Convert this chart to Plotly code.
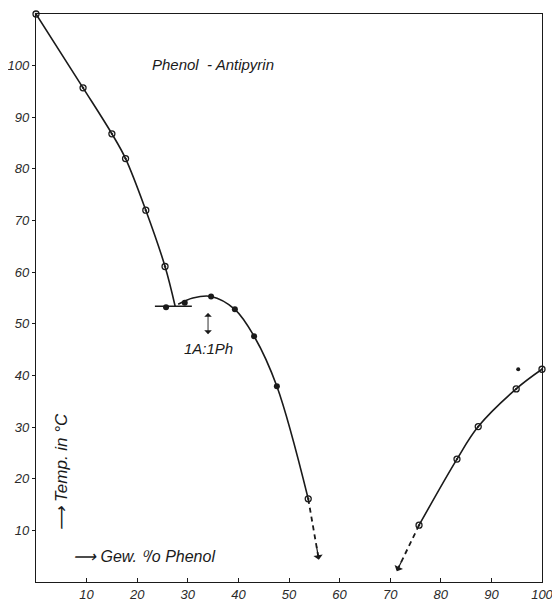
import plotly.graph_objects as go

# Left branch (antipyrin liquidus)
left_x = [0, 9.3, 15.0, 17.7, 21.7, 25.5, 27.5]
left_y = [110, 95.7, 86.8, 82.0, 72.0, 61.1, 53.4]
left_mx = [0, 9.3, 15.0, 17.7, 21.7, 25.5]
left_my = [110, 95.7, 86.8, 82.0, 72.0, 61.1]

# Eutectic line
eut_x = [23.5, 30.8]
eut_y = [53.4, 53.4]
eut_mx = [25.7, 29.4]
eut_my = [53.2, 54.1]

# Compound branch (1A:1Ph)
mid_x = [28.1, 31.0, 34.6, 39.3, 43.1, 47.6, 53.8]
mid_y = [53.8, 55.0, 55.3, 52.8, 47.6, 37.9, 16.1]
mid_mx = [34.6, 39.3, 43.1, 47.6]
mid_my = [55.3, 52.8, 47.6, 37.9]
mid_open_x = [53.8]
mid_open_y = [16.1]
ext_mid_x = [53.8, 55.9]
ext_mid_y = [16.1, 4.3]

# Phenol branch
right_x = [75.7, 83.2, 87.4, 94.9, 100]
right_y = [11.0, 23.8, 30.1, 37.4, 41.2]
ext_right_x = [75.7, 71.3]
ext_right_y = [11.0, 2.1]
stray_x = [95.3]
stray_y = [41.2]

# Compound arrow
comp_x = 34.0
comp_y = [52.4, 48.0]

x_ticks = [10, 20, 30, 40, 50, 60, 70, 80, 90, 100]
y_ticks = [10, 20, 30, 40, 50, 60, 70, 80, 90, 100]

ink = "#1a1a1a"
fnt = dict(family="Liberation Sans", size=13, color="#2a2a2a", style="italic")
lab = dict(family="Liberation Sans", size=15, color=ink, style="italic")

fig = go.Figure()
line = dict(color=ink, width=1.6, shape="spline", smoothing=1.0)
fig.add_trace(go.Scatter(x=left_x, y=left_y, mode="lines", line=line, cliponaxis=False))
fig.add_trace(go.Scatter(x=mid_x, y=mid_y, mode="lines", line=line, cliponaxis=False))
fig.add_trace(go.Scatter(x=right_x, y=right_y, mode="lines", line=line, cliponaxis=False))
fig.add_trace(go.Scatter(x=eut_x, y=eut_y, mode="lines", line=dict(color=ink, width=1.4)))
fig.add_trace(go.Scatter(x=ext_mid_x, y=ext_mid_y, mode="lines",
                         line=dict(color=ink, width=1.8, dash="5px,4px")))
fig.add_trace(go.Scatter(x=ext_right_x, y=ext_right_y, mode="lines",
                         line=dict(color=ink, width=1.8, dash="5px,4px")))

open_m = dict(symbol="circle-open-dot", size=6, color=ink, line=dict(width=1.3, color=ink))
fill_m = dict(symbol="circle", size=6, color=ink)
fig.add_trace(go.Scatter(x=left_mx, y=left_my, mode="markers", marker=open_m, cliponaxis=False))
fig.add_trace(go.Scatter(x=right_x, y=right_y, mode="markers", marker=open_m, cliponaxis=False))
fig.add_trace(go.Scatter(x=mid_open_x, y=mid_open_y, mode="markers", marker=open_m))
fig.add_trace(go.Scatter(x=mid_mx, y=mid_my, mode="markers", marker=fill_m))
fig.add_trace(go.Scatter(x=eut_mx, y=eut_my, mode="markers", marker=fill_m))
fig.add_trace(go.Scatter(x=stray_x, y=stray_y, mode="markers",
                         marker=dict(symbol="circle", size=4, color=ink)))

anns = []
# arrowheads at end of dashed extrapolations
for xs, ys in [(ext_mid_x, ext_mid_y), (ext_right_x, ext_right_y)]:
    fx = xs[1] - (xs[1] - xs[0]) * 0.25
    fy = ys[1] - (ys[1] - ys[0]) * 0.25
    anns.append(dict(x=xs[1], y=ys[1], ax=fx, ay=fy, axref="x", ayref="y",
                     xref="x", yref="y", text="", showarrow=True,
                     arrowhead=1, arrowsize=1.3, arrowwidth=1.2, arrowcolor=ink))
# compound double arrow
anns.append(dict(x=comp_x, y=comp_y[1], ax=comp_x, ay=comp_y[0], axref="x", ayref="y",
                 xref="x", yref="y", text="", showarrow=True, arrowside="end+start",
                 arrowhead=1, arrowsize=1.4, arrowwidth=0.9, arrowcolor=ink))
anns.append(dict(x=comp_x, y=45.2, xref="x", yref="y", text="1A:1Ph", showarrow=False,
                 font=lab))
anns.append(dict(x=22.6, y=100.2, xref="x", yref="y", xanchor="left",
                 text="Phenol  - Antipyrin", showarrow=False, font=lab))
anns.append(dict(x=7.0, y=5.0, xref="x", yref="y", xanchor="left",
                 text="⟶ Gew. ⁰/o Phenol", showarrow=False,
                 font=dict(family="Liberation Sans", size=16, color=ink, style="italic")))
anns.append(dict(x=5.0, y=9.6, xref="x", yref="y", textangle=-90, yanchor="bottom",
                 text="⟶ Temp. in °C", showarrow=False,
                 font=dict(family="Liberation Sans", size=17, color=ink, style="italic")))

# the page body has an 8px margin, so the figure is sized to fit the 560x602 window
fig.update_layout(
    width=552, height=594,
    margin=dict(l=28, r=18, t=6, b=20),
    paper_bgcolor="white", plot_bgcolor="white",
    showlegend=False,
    annotations=anns,
    font=fnt,
)
fig.update_xaxes(range=[0, 100], tickvals=x_ticks, ticktext=[str(v) for v in x_ticks],
                 showgrid=False, zeroline=False, showline=True, linecolor=ink,
                 linewidth=1.3, mirror=True, ticks="inside", ticklen=4, tickcolor=ink,
                 tickfont=fnt, automargin=False, ticklabelstandoff=0)
fig.update_yaxes(range=[0, 110], tickvals=y_ticks, ticktext=[str(v) for v in y_ticks],
                 showgrid=False, zeroline=False, showline=True, linecolor=ink,
                 linewidth=1.3, mirror=True, ticks="outside", ticklen=3, tickcolor=ink,
                 tickfont=fnt, automargin=False)

fig.write_html("out.html")
